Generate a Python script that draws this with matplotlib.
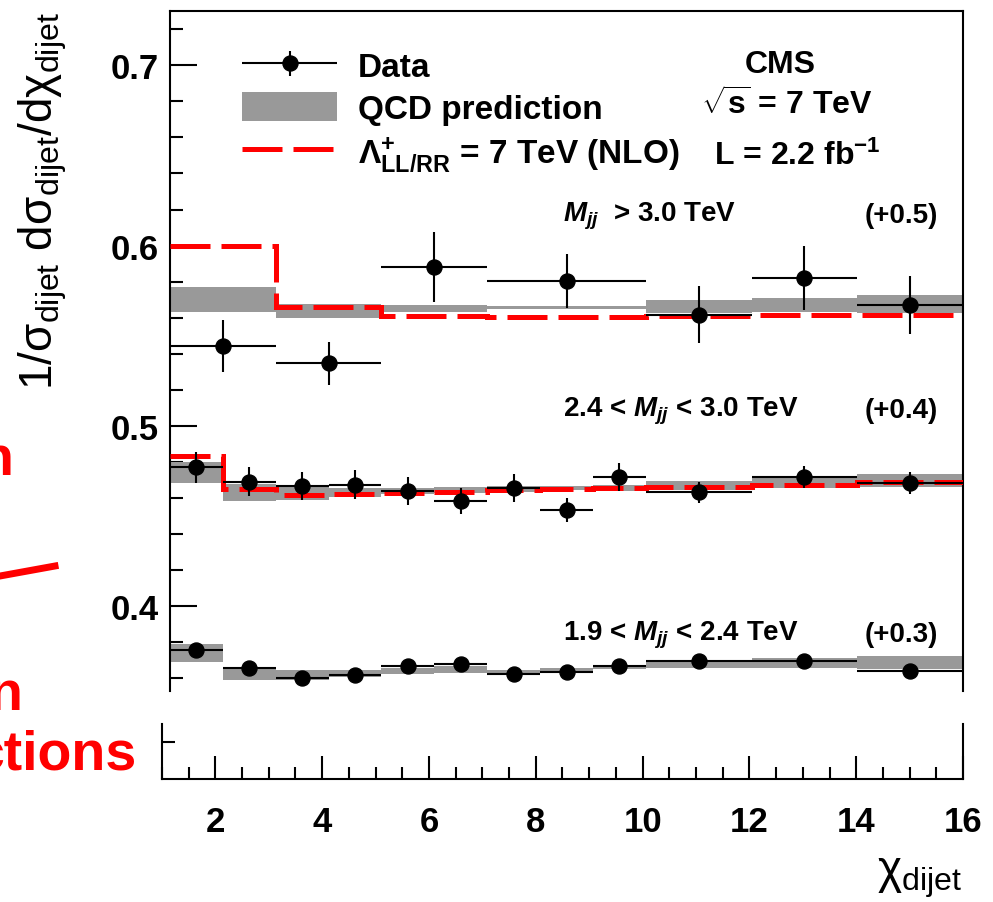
import numpy as np
import matplotlib
matplotlib.use("Agg")
import matplotlib.pyplot as plt
import matplotlib.patches as mpatches
from matplotlib.lines import Line2D
from matplotlib.container import ErrorbarContainer
from matplotlib.legend_handler import HandlerErrorbar
from matplotlib.ticker import MultipleLocator, FixedLocator

plt.rcParams["font.family"] = ["Liberation Sans", "DejaVu Sans"]
plt.rcParams["mathtext.fontset"] = "custom"
plt.rcParams["mathtext.rm"] = "Liberation Sans"
plt.rcParams["mathtext.it"] = "Liberation Sans:italic"
plt.rcParams["mathtext.bf"] = "Liberation Sans:bold"
plt.rcParams["mathtext.bfit"] = "Liberation Sans:bold:italic"
plt.rcParams["mathtext.sf"] = "Liberation Sans"

# chi_dijet binning
edges_hi = [1, 3, 5, 7, 10, 12, 14, 16]
edges_lo = [1, 2, 3, 4, 5, 6, 7, 8, 9, 10, 12, 14, 16]

# vertical offsets added to each mass bin
offsets = [0.5, 0.4, 0.3]
mass_labels = [r"$\mathbfit{M}_{\mathbfit{jj}}$  > 3.0 TeV",
               r"2.4 < $\mathbfit{M}_{\mathbfit{jj}}$ < 3.0 TeV",
               r"1.9 < $\mathbfit{M}_{\mathbfit{jj}}$ < 2.4 TeV"]
offset_labels = ["(+0.5)", "(+0.4)", "(+0.3)"]

# M_jj > 3.0 TeV
data_hi = [0.0443, 0.0347, 0.0883, 0.0805, 0.0617, 0.0819, 0.0670]
err_hi = [0.0144, 0.0120, 0.0194, 0.0150, 0.0157, 0.0178, 0.0162]
qcd_hi = [0.0701, 0.0637, 0.0652, 0.0655, 0.0662, 0.0671, 0.0676]
qcd_unc_hi = [0.0068, 0.0040, 0.0018, 0.0008, 0.0036, 0.0038, 0.0050]
ci_hi = [0.0996, 0.0661, 0.0608, 0.0602, 0.0611, 0.0615, 0.0617]

# 2.4 < M_jj < 3.0 TeV
data_mid = [0.0770, 0.0691, 0.0668, 0.0674, 0.0640, 0.0583,
            0.0657, 0.0533, 0.0718, 0.0632, 0.0715, 0.0683]
err_mid = [0.0086, 0.0080, 0.0078, 0.0080, 0.0077, 0.0073,
           0.0077, 0.0067, 0.0079, 0.0060, 0.0061, 0.0061]
qcd_mid = [0.0741, 0.0632, 0.0626, 0.0629, 0.0638, 0.0645,
           0.0650, 0.0655, 0.0656, 0.0671, 0.0688, 0.0697]
qcd_unc_mid = [0.0060, 0.0047, 0.0037, 0.0025, 0.0016, 0.0018,
               0.0015, 0.0012, 0.0016, 0.0025, 0.0032, 0.0037]
ci_mid = [0.0831, 0.0650, 0.0617, 0.0621, 0.0628, 0.0635,
          0.0644, 0.0648, 0.0655, 0.0663, 0.0674, 0.0690]

# 1.9 < M_jj < 2.4 TeV
data_lo = [0.0757, 0.0657, 0.0602, 0.0617, 0.0667, 0.0679,
           0.0626, 0.0634, 0.0667, 0.0694, 0.0698, 0.0643]
err_lo = [0.0030, 0.0022, 0.0020, 0.0020, 0.0020, 0.0020,
          0.0020, 0.0020, 0.0020, 0.0018, 0.0018, 0.0018]
qcd_lo = [0.0739, 0.0628, 0.0619, 0.0627, 0.0641, 0.0650,
          0.0635, 0.0645, 0.0664, 0.0680, 0.0684, 0.0689]
qcd_unc_lo = [0.0050, 0.0037, 0.0028, 0.0020, 0.0018, 0.0018,
              0.0010, 0.0012, 0.0010, 0.0020, 0.0027, 0.0037]

GREY = "#999999"
RED = "#ff0000"
DASH = (0, (8, 2.2))

fig = plt.figure(figsize=(9.93, 9.03), dpi=100)
ax = fig.add_axes([0.1712, 0.23367, 0.7986, 0.75304])
axx = fig.add_axes([0.16314, 0.13621, 0.80665, 0.06091])


def draw_group(edges, off, data, err, qcd, qcd_unc, ci=None):
    edges = np.asarray(edges, float)
    widths = np.diff(edges)
    centers = edges[:-1] + widths / 2
    qcd = np.asarray(qcd) + off
    unc = np.asarray(qcd_unc)
    ax.bar(edges[:-1], 2 * unc, width=widths, bottom=qcd - unc, align="edge",
           color=GREY, linewidth=0, zorder=2)
    if ci is not None:
        ax.stairs(np.asarray(ci) + off, edges, baseline=None, color=RED,
                  linewidth=3.6, linestyle=DASH, zorder=3)
    cont = ax.errorbar(centers, np.asarray(data) + off, xerr=widths / 2,
                       yerr=err, fmt="o", color="black", markersize=10.8,
                       elinewidth=1.5, capsize=0, zorder=4)
    return cont


draw_group(edges_hi, offsets[0], data_hi, err_hi, qcd_hi, qcd_unc_hi, ci_hi)
data_handle = draw_group(edges_lo, offsets[1], data_mid, err_mid, qcd_mid,
                         qcd_unc_mid, ci_mid)
draw_group(edges_lo, offsets[2], data_lo, err_lo, qcd_lo, qcd_unc_lo)

# upper frame: y axis only
ax.set_xlim(1, 16)
ax.set_ylim(0.35303, 0.73011)
ax.spines["bottom"].set_visible(False)
for s in ax.spines.values():
    s.set_linewidth(1.5)
ax.yaxis.set_major_locator(FixedLocator([0.4, 0.5, 0.6, 0.7]))
ax.yaxis.set_minor_locator(MultipleLocator(0.02))
ax.set_yticklabels(["0.4", "0.5", "0.6", "0.7"])
ax.tick_params(axis="x", which="both", bottom=False, labelbottom=False)
ax.tick_params(axis="y", which="both", direction="in", width=1.5, right=False)
ax.tick_params(axis="y", which="major", length=19.4, pad=8, labelsize=25)
ax.tick_params(axis="y", which="minor", length=9.4)
for t in ax.get_yticklabels():
    t.set_fontweight("bold")

# lower frame: x axis
axx.set_xlim(1, 16)
axx.set_ylim(0, 1)
axx.spines["top"].set_visible(False)
for s in axx.spines.values():
    s.set_linewidth(1.5)
axx.xaxis.set_major_locator(MultipleLocator(2))
axx.xaxis.set_minor_locator(MultipleLocator(0.5))
axx.set_yticks([0.673])
axx.set_yticklabels([])
axx.tick_params(axis="both", which="both", direction="in", width=1.5,
                top=False, right=False)
axx.tick_params(axis="x", which="major", length=16.6, pad=19, labelsize=25)
axx.tick_params(axis="x", which="minor", length=8.6)
axx.tick_params(axis="y", which="major", length=9.4)
for t in axx.get_xticklabels():
    t.set_fontweight("bold")

# axis titles
fig.text(0.043, 0.987,
         r"$\mathregular{1/\sigma_{dijet}\ d\sigma_{dijet}/d\chi_{dijet}}$",
         rotation=90, ha="center", va="top", fontsize=33)
fig.text(0.969, 0.003, r"$\mathregular{\chi_{dijet}}$",
         ha="right", va="bottom", fontsize=33)

# legend
ci_handle = Line2D([], [], color=RED, linewidth=3.6, linestyle=DASH)
qcd_handle = mpatches.Patch(color=GREY, linewidth=0)
leg = ax.legend([data_handle, qcd_handle, ci_handle],
                ["Data", "QCD prediction",
                 r"$\mathregular{\Lambda^{+}_{\mathbf{LL/RR}}}$ = 7 TeV (NLO)"],
                loc="upper left", bbox_to_anchor=(0.0908, 0.942),
                frameon=False, borderpad=0, borderaxespad=0,
                handlelength=2.85, handleheight=0.96, handletextpad=0.62,
                labelspacing=0.26,
                prop={"size": 24, "weight": "bold"},
                handler_map={ErrorbarContainer:
                             HandlerErrorbar(xerr_size=1.42, yerr_size=0.38)})

# experiment info
ax.text(0.770, 0.922, "CMS", transform=ax.transAxes, ha="center",
        va="center", fontsize=23, fontweight="bold")
ax.text(0.778, 0.862, r"$\sqrt{\mathbf{s}}$ = 7 TeV", transform=ax.transAxes,
        ha="center", va="center", fontsize=23, fontweight="bold")
ax.text(0.686, 0.787, r"L = 2.2 fb$^{\mathbf{-1}}$", transform=ax.transAxes,
        ha="left", va="center", fontsize=23, fontweight="bold")

# mass bin labels
label_y = [0.700, 0.413, 0.084]
for lab, off_lab, yy in zip(mass_labels, offset_labels, label_y):
    ax.text(0.495, yy, lab, transform=ax.transAxes, ha="left", va="center",
            fontsize=20, fontweight="bold")
    ax.text(0.968, yy, off_lab, transform=ax.transAxes, ha="right",
            va="center", fontsize=20, fontweight="bold")

# slide annotation fragments at the left edge
fig.text(13 / 993, 1 - 475 / 903, "n", color=RED, ha="right", va="baseline",
         fontsize=40, fontweight="bold")
fig.text(22 / 993, 1 - 710 / 903, "n", color=RED, ha="right", va="baseline",
         fontsize=40, fontweight="bold")
fig.text(137 / 993, 1 - 770 / 903, "ctions", color=RED, ha="right",
         va="baseline", fontsize=40, fontweight="bold")
fig.add_artist(Line2D([0, 55 / 993], [1 - 577 / 903, 1 - 567 / 903],
                      transform=fig.transFigure, color=RED, linewidth=5))

fig.savefig("out.png", dpi=100)
